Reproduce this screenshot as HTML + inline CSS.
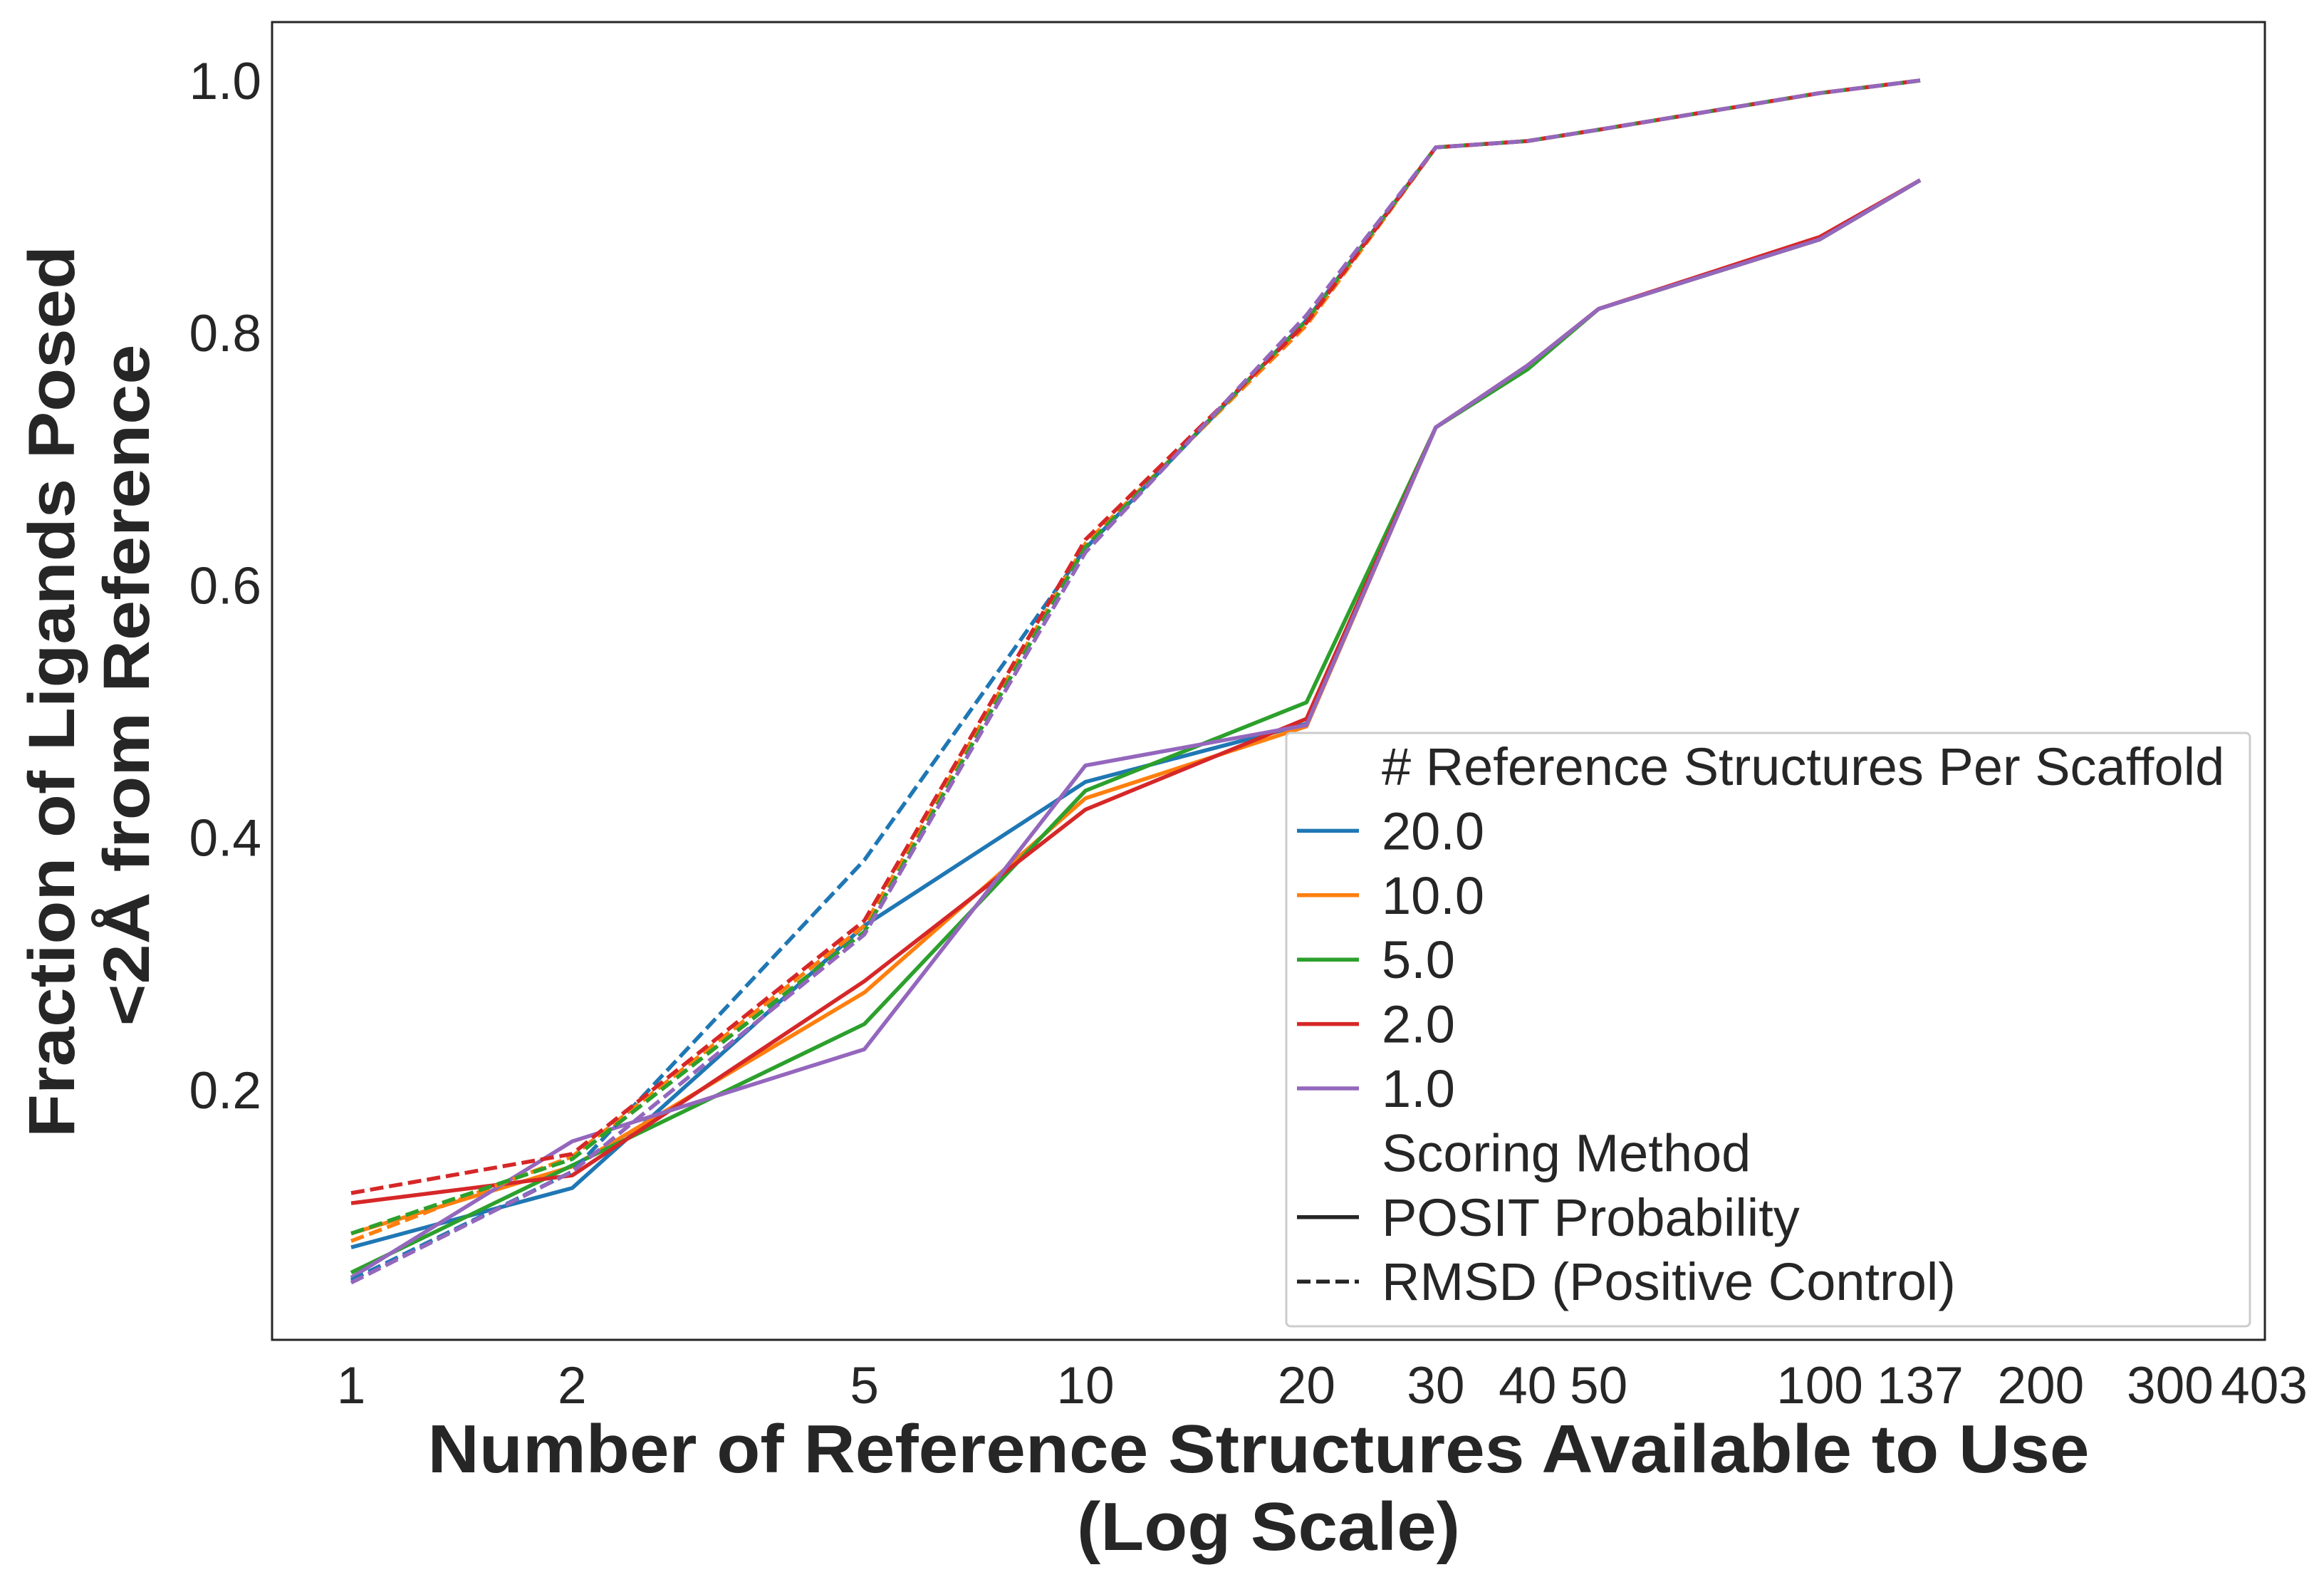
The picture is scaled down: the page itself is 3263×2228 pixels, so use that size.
<!DOCTYPE html>
<html><head><meta charset="utf-8"><style>
html,body{margin:0;padding:0;background:#fff}
svg text{font-family:"Liberation Sans",Arial,sans-serif;fill:#262626}
</style></head><body>
<svg id="chart" width="3263" height="2223" viewBox="0 0 3263 2223" xmlns="http://www.w3.org/2000/svg">
<rect x="0" y="0" width="3263" height="2223" fill="#fff"/>
<g id="marks"></g>
<rect x="382" y="31" width="2798" height="1850" fill="none" stroke="#262626" stroke-width="3"/>
<g id="xticks"></g>
<g id="yticks"></g>
<text x="1767" y="2067" text-anchor="middle" font-size="96" font-weight="bold" textLength="2333" lengthAdjust="spacingAndGlyphs">Number of Reference Structures Available to Use</text>
<text x="1781" y="2176" text-anchor="middle" font-size="96" font-weight="bold" textLength="538" lengthAdjust="spacingAndGlyphs">(Log Scale)</text>
<text transform="translate(104,971) rotate(-90)" text-anchor="middle" font-size="92" font-weight="bold" textLength="1252" lengthAdjust="spacingAndGlyphs">Fraction of Ligands Posed</text>
<text transform="translate(209,962) rotate(-90)" text-anchor="middle" font-size="92" font-weight="bold" textLength="957" lengthAdjust="spacingAndGlyphs">&lt;2Å from Reference</text>
<g id="legend">
<rect x="1806" y="1029" width="1353" height="833" fill="#fff" fill-opacity="0.85" stroke="#ccc" stroke-width="3" rx="6"/>
</g>
</svg>
<script>
const xVals=[1,2,5,10,20,30,40,50,100,137];
const xTicks=[1,2,5,10,20,30,40,50,100,137,200,300,403];
const yTicks=[0.2,0.4,0.6,0.8,1.0];
const sizes=["20.0","10.0","5.0","2.0","1.0"];
const colors=["#1f77b4","#ff7f0e","#2ca02c","#d62728","#9467bd"];
const positBlue=[0.075,0.122,0.330,0.444,0.490,0.725,0.774,0.819,0.874,0.921];
const positOrange=[0.086,0.139,0.277,0.431,0.488,0.725,0.774,0.819,0.874,0.921];
const positGreen=[0.055,0.140,0.252,0.437,0.507,0.725,0.771,0.819,0.874,0.921];
const positRed=[0.110,0.132,0.286,0.422,0.494,0.725,0.774,0.819,0.876,0.921];
const positPurple=[0.051,0.159,0.232,0.457,0.489,0.725,0.774,0.819,0.874,0.921];
const rmsdBlue=[0.049,0.135,0.382,0.629,0.810,0.947,0.952,0.961,0.990,1.0];
const rmsdOrange=[0.080,0.147,0.330,0.633,0.806,0.947,0.952,0.961,0.990,1.0];
const rmsdGreen=[0.086,0.145,0.325,0.630,0.810,0.947,0.952,0.961,0.990,1.0];
const rmsdRed=[0.118,0.149,0.334,0.636,0.808,0.947,0.952,0.961,0.990,1.0];
const rmsdPurple=[0.047,0.135,0.323,0.626,0.814,0.947,0.952,0.961,0.990,1.0];
const posit=[positBlue,positOrange,positGreen,positRed,positPurple];
const rmsd=[rmsdBlue,rmsdOrange,rmsdGreen,rmsdRed,rmsdPurple];

const NS="http://www.w3.org/2000/svg";
function X(v){return 493+1031*Math.log10(v);}
function Y(v){return 1884-1771*v;}
function mk(tag,attrs,parent){const e=document.createElementNS(NS,tag);for(const k in attrs)e.setAttribute(k,attrs[k]);parent.appendChild(e);return e;}
const marks=document.getElementById('marks');
function line(vals,color,dash,name){
  const d=vals.map((v,i)=>(i?'L':'M')+X(xVals[i]).toFixed(1)+','+Y(v).toFixed(1)).join(' ');
  const p=mk('path',{d:d,fill:'none',stroke:color,'stroke-width':5.5,'stroke-linejoin':'round'},marks);
  if(dash)p.setAttribute('stroke-dasharray','19,8');
  
  
}
for(let i=0;i<5;i++)line(posit[i],colors[i],false,'posit-line-'+sizes[i].replace('.','-'));
for(let i=0;i<5;i++)line(rmsd[i],colors[i],true,'rmsd-line-'+sizes[i].replace('.','-'));

const xt=document.getElementById('xticks');
xTicks.forEach(t=>{
  const e=mk('text',{x:X(t),y:1970,'text-anchor':'middle','font-size':73},xt);
  e.textContent=t;
  
  
});
const yt=document.getElementById('yticks');
yTicks.forEach(t=>{
  const e=mk('text',{x:367,y:Y(t)+26,'text-anchor':'end','font-size':73},yt);
  e.textContent=t.toFixed(1);
  
  
});
const lg=document.getElementById('legend');
const entries=[["# Reference Structures Per Scaffold",null,false]];
sizes.forEach((s,i)=>entries.push([s,colors[i],false]));
entries.push(["Scoring Method",null,false],["POSIT Probability","#262626",false],["RMSD (Positive Control)","#262626",true]);
entries.forEach((en,i)=>{
  const y=1076+i*90.4;
  if(en[1]){
    const l=mk('line',{x1:1821,x2:1908,y1:y,y2:y,stroke:en[1],'stroke-width':5.5},lg);
    if(en[2])l.setAttribute('stroke-dasharray','19,8');
    
    
  }
  const t=mk('text',{x:1940,y:y+26,'font-size':74},lg);
  t.textContent=en[0];
  
  
});
</script>
</body></html>
